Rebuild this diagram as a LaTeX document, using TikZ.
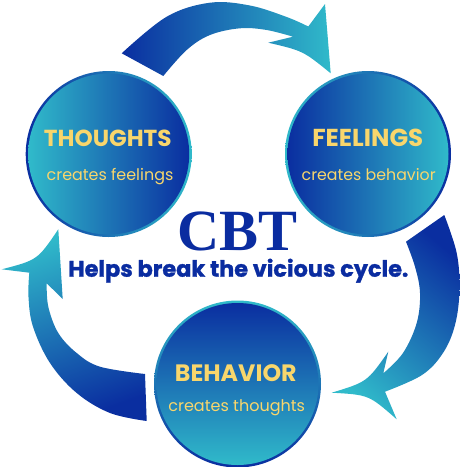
\documentclass[tikz,border=0pt]{standalone}
\usepackage{fontspec}
\usepackage{graphicx}
\newfontfamily\pop{Poppins}
\newfontfamily\popheavy{Poppins}[BoldFeatures={FakeBold=1.3}]
\newfontfamily\serifb{Liberation Serif}
\definecolor{dblue}{RGB}{10,46,160}
\definecolor{lcyan}{RGB}{48,186,202}
\definecolor{ytext}{RGB}{248,214,108}
\definecolor{cbtblue}{RGB}{10,44,160}
\newcommand\fitw[2]{\resizebox{#1pt}{!}{#2}}
\begin{document}
\begin{tikzpicture}[x=1pt,y=-1pt,
  titletext/.style={text=ytext, anchor=base, inner sep=0pt, font=\pop\bfseries},
  subtext/.style={text=ytext, anchor=base, inner sep=0pt, font=\pop},
  smoothplot/.style={smooth, tension=0.6}]
\useasboundingbox (0,0) rectangle (460,467);

% top arrow: THOUGHTS -> FEELINGS
\shade[left color=dblue, right color=lcyan]
  plot[smoothplot] coordinates {(121.7,53.3) (166.7,16.7) (210,2.7) (250,5.5) (286.7,17) (308.3,26.5)}
  -- (325,4) -- (330.7,73.3) .. controls (303,50.8) .. (268.3,42.7)
  -- plot[smoothplot] coordinates {(293,36.7) (266.7,30) (240,28.3) (210,35) (186.7,50) (163.3,76)}
  -- cycle;

% right arrow: FEELINGS -> BEHAVIOR
\shade[top color=dblue, bottom color=lcyan, shading angle=-40]
  plot[smoothplot] coordinates {(444.3,215) (456.7,253) (459.5,290) (455,325) (443,353) (422,375) (385,391.7)}
  -- (396.7,419.3) .. controls (368.8,394.8) .. (331.7,392.7)
  .. controls (367.1,381.9) .. (388.3,351.7)
  -- plot[smoothplot] coordinates {(383.3,373.3) (403,353) (416.7,323) (420,293) (415,266.7) (406,241.7)}
  -- cycle;

% left arrow: BEHAVIOR -> THOUGHTS
\shade[top color=lcyan, bottom color=dblue, shading angle=20]
  plot[smoothplot] coordinates {(146.7,421) (110,413) (76.7,393) (50,363) (33,326.7) (28.5,297) (29.3,272.7)}
  -- (1.7,269.3) .. controls (37.5,260) .. (58.3,229.3)
  -- (62.7,299) -- (46.7,283.3)
  -- plot[smoothplot] coordinates {(46.7,283.3) (48.3,306.7) (58.3,333) (76.7,353) (100,366.7) (145,374)}
  -- cycle;

% circles
\shade[left color=dblue, right color=lcyan] (108.7,154) circle (83);
\shade[left color=lcyan, right color=dblue] (108.7,154) circle (80.5);
\shade[left color=lcyan, right color=dblue] (368,154) circle (83);
\shade[left color=dblue, right color=lcyan] (368,154) circle (80.5);
\shade[top color=lcyan, bottom color=dblue] (237.5,384) circle (83.5);
\shade[top color=dblue, bottom color=lcyan] (237.5,384) circle (81);

% texts
\node[titletext] (thoughts) at (107.8,146) {\fitw{127.7}{THOUGHTS}};
\node[subtext] (thoughtssub) at (110,180) {\fitw{126.7}{creates feelings}};
\node[titletext] (feelings) at (367.8,146) {\fitw{111}{FEELINGS}};
\node[subtext] (feelingssub) at (368.7,180) {\fitw{134}{creates behavior}};
\node[titletext] (behavior) at (235.8,381) {\fitw{121.7}{BEHAVIOR}};
\node[subtext] (behaviorsub) at (236.7,411) {\fitw{136.7}{creates thoughts}};
\node[anchor=base, inner sep=0pt, text=cbtblue, font=\serifb\bfseries] (cbt) at (237.3,250) {\fitw{120}{CBT}};
\node[anchor=base, inner sep=0pt, text=cbtblue, font=\popheavy\bfseries] (helps) at (238.3,276.7) {\fitw{340}{Helps break the vicious cycle.}};
\end{tikzpicture}
\end{document}
